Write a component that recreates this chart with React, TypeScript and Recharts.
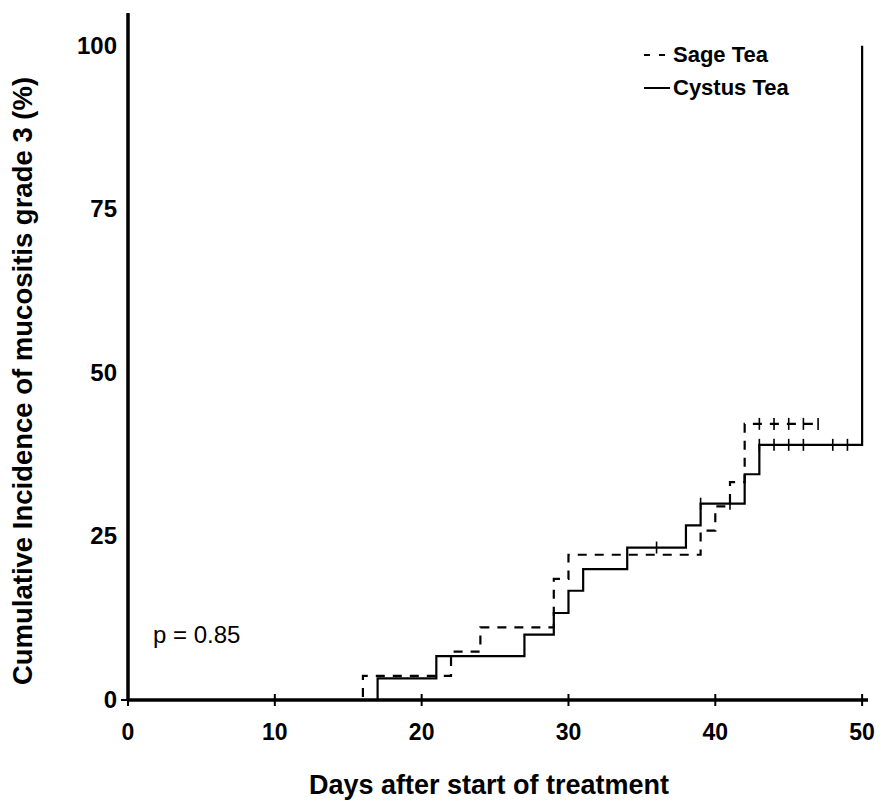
import { ComposedChart, Line, Scatter, XAxis, YAxis, Legend } from "recharts";

// step points (day, cumulative %)
const sageDays = [0, 16, 22, 24, 29, 30, 39, 40, 41, 42, 47];
const sagePct = [0, 3.7, 7.4, 11.1, 18.5, 22.2, 25.9, 29.6, 33.3, 42.2, 42.2];
const cystusDays = [0, 17, 21, 27, 29, 30, 31, 34, 38, 39, 42, 43, 50];
const cystusPct = [0, 3.3, 6.7, 10, 13.3, 16.7, 20, 23.3, 26.7, 30, 34.5, 39, 100];

// censored observations
const sageCensorDays = [43, 44, 45, 46, 47];
const sageCensorPct = [42.2, 42.2, 42.2, 42.2, 42.2];
const cystusCensorDays = [36, 39, 41, 43, 44, 45, 46, 48, 49];
const cystusCensorPct = [23.3, 30, 30, 39, 39, 39, 39, 39, 39];

const xTicks = [0, 10, 20, 30, 40, 50];
const yTicks = [0, 25, 50, 75, 100];

const FONT = '"Liberation Sans", Arial, Helvetica, sans-serif';

const toRows = (days: number[], pct: number[]) =>
  days.map((d, i) => ({ day: d, pct: pct[i] }));

const sageData = toRows(sageDays, sagePct);
const cystusData = toRows(cystusDays, cystusPct);
const sageCensor = toRows(sageCensorDays, sageCensorPct);
const cystusCensor = toRows(cystusCensorDays, cystusCensorPct);

const legendItems = [
  { name: "Sage Tea", dash: "6 9" },
  { name: "Cystus Tea", dash: undefined },
];

const CensorMark = (props: any) => {
  const { cx, cy } = props;
  return (
    <line x1={cx} x2={cx} y1={cy - 6} y2={cy + 6} stroke="#000" strokeWidth={1.6} />
  );
};

const XTick = (props: any) => {
  const { x, y, payload } = props;
  return (
    <g>
      <line x1={x} x2={x} y1={y - 6} y2={y + 6} stroke="#000" strokeWidth={2} />
      <text
        x={x}
        y={y + 40}
        textAnchor="middle"
        fontFamily={FONT}
        fontWeight="bold"
        fontSize={23}
        fill="#000"
      >
        {payload.value}
      </text>
    </g>
  );
};

const YTick = (props: any) => {
  const { x, y, payload } = props;
  return (
    <g>
      {payload.value === 0 && (
        <line x1={x - 7} x2={x} y1={y} y2={y} stroke="#000" strokeWidth={2} />
      )}
      <text
        x={x - 11}
        y={y + 8}
        textAnchor="end"
        fontFamily={FONT}
        fontWeight="bold"
        fontSize={24}
        fill="#000"
      >
        {payload.value}
      </text>
    </g>
  );
};

const renderLegend = () => (
  <div
    style={{
      fontFamily: FONT,
      fontWeight: "bold",
      fontSize: 22,
      lineHeight: "33px",
      color: "#000",
    }}
  >
    {legendItems.map((item) => (
      <div key={item.name} style={{ display: "flex", alignItems: "center" }}>
        <svg width={31} height={10} style={{ display: "block" }}>
          <line
            x1={2}
            x2={28}
            y1={5}
            y2={5}
            stroke="#000"
            strokeWidth={2}
            strokeDasharray={item.dash}
          />
        </svg>
        <span>{item.name}</span>
      </div>
    ))}
  </div>
);

export default function App() {
  return (
    <div
      style={{
        position: "absolute",
        left: 0,
        top: 0,
        width: 889,
        height: 801,
        background: "#fff",
      }}
    >
      <ComposedChart
        width={889}
        height={801}
        margin={{ top: 13, right: 21, bottom: 0, left: 0 }}
      >
        <XAxis
          dataKey="day"
          type="number"
          domain={[0, 50.4]}
          ticks={xTicks}
          allowDataOverflow
          height={101}
          axisLine={{ stroke: "#000", strokeWidth: 3.5 }}
          tickLine={false}
          tickSize={0}
          tickMargin={0}
          tick={<XTick />}
          label={{
            content: () => (
              <text
                x={489}
                y={794}
                textAnchor="middle"
                fontFamily={FONT}
                fontWeight="bold"
                fontSize={27}
                fill="#000"
              >
                Days after start of treatment
              </text>
            ),
          }}
        />
        <YAxis
          dataKey="pct"
          type="number"
          domain={[0, 105]}
          ticks={yTicks}
          width={128}
          axisLine={{ stroke: "#000", strokeWidth: 3.5 }}
          tickLine={false}
          tickSize={0}
          tickMargin={0}
          tick={<YTick />}
          label={{
            content: () => (
              <text
                x={32}
                y={381}
                transform="rotate(-90, 32, 381)"
                textAnchor="middle"
                fontFamily={FONT}
                fontWeight="bold"
                fontSize={27.5}
                fill="#000"
              >
                Cumulative Incidence of mucositis grade 3 (%)
              </text>
            ),
          }}
        />
        <Legend
          content={renderLegend}
          layout="vertical"
          align="center"
          verticalAlign="middle"
          wrapperStyle={{ left: 642, top: 38, width: 220 }}
        />
        <Line
          data={sageData}
          dataKey="pct"
          name="Sage Tea"
          type="stepAfter"
          stroke="#000"
          strokeWidth={2.2}
          strokeDasharray="9 8"
          dot={false}
          activeDot={false}
          isAnimationActive={false}
        />
        <Line
          data={cystusData}
          dataKey="pct"
          name="Cystus Tea"
          type="stepAfter"
          stroke="#000"
          strokeWidth={2.2}
          dot={false}
          activeDot={false}
          isAnimationActive={false}
        />
        <Scatter
          data={sageCensor}
          dataKey="pct"
          shape={<CensorMark />}
          legendType="none"
          isAnimationActive={false}
        />
        <Scatter
          data={cystusCensor}
          dataKey="pct"
          shape={<CensorMark />}
          legendType="none"
          isAnimationActive={false}
        />
      </ComposedChart>
      <div
        style={{
          position: "absolute",
          left: 153,
          top: 620,
          fontFamily: FONT,
          fontSize: 24,
          lineHeight: "30px",
          color: "#000",
        }}
      >
        p = 0.85
      </div>
    </div>
  );
}
